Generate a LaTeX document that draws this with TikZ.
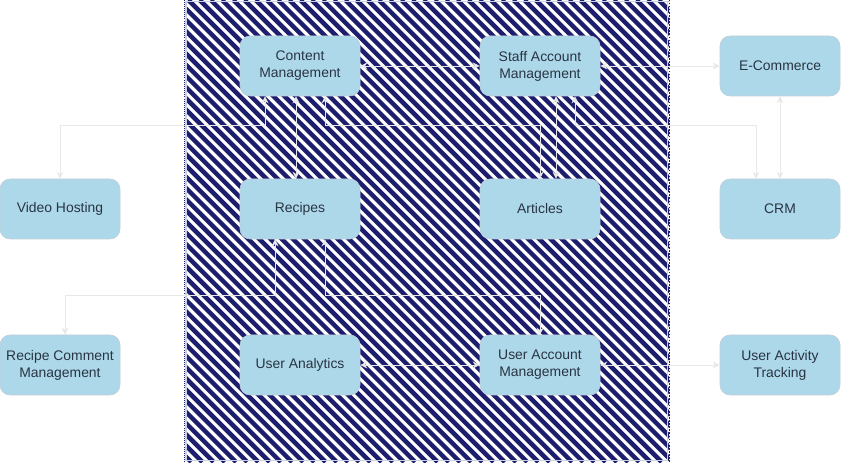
\documentclass[tikz,border=0pt]{standalone}
\usepackage{fontspec}
\setmainfont{Liberation Sans}
\usetikzlibrary{arrows.meta}
\definecolor{boxfill}{RGB}{173,216,234}
\definecolor{boxline}{RGB}{190,205,215}
\definecolor{boxtext}{RGB}{40,52,66}
\definecolor{hatchnavy}{RGB}{30,30,110}
\definecolor{linkgray}{RGB}{232,232,232}
\definecolor{frameline}{RGB}{200,210,225}

\begin{document}
\begin{tikzpicture}[>={Stealth[length=5pt,width=5pt]},
    box/.style={draw=boxline, fill=boxfill, rounded corners=0.25cm, minimum width=3cm, minimum height=1.5cm,
        align=center, text=boxtext, inner sep=1pt, font=\fontsize{9.9}{12.2}\selectfont},
    link/.style={draw=linkgray, line width=0.6pt, <->}]
    \useasboundingbox (0,0) rectangle (21.025,11.55);

    % schraffierter Bereich
    \begin{scope}
        \clip (4.625,0) rectangle (16.725,11.55);
        \foreach \c in {4.5,4.78,...,28.6}
            \draw[hatchnavy, line width=3.2pt] (\c,0) -- ++(-11.55,11.55);
    \end{scope}
    \draw[frameline, line width=0.8pt] (4.65,0.03) rectangle (16.68,11.52);
    \draw[hatchnavy, densely dotted, line width=1.2pt] (16.74,0) -- (16.74,11.55);
    \draw[hatchnavy, densely dotted, line width=0.5pt] (4.62,0) -- (4.62,11.55);

    % obere Reihe
    \node[box] (content) at (7.5,9.9) {Content\\Management};
    \node[box] (staff) at (13.5,9.9) {Staff Account\\Management};
    \node[box] (ecom) at (19.5,9.9) {E-Commerce};

    % mittlere Reihe
    \node[box] (video) at (1.5,6.325) {Video Hosting};
    \node[box] (recipes) at (7.5,6.325) {Recipes};
    \node[box] (articles) at (13.5,6.325) {Articles};
    \node[box] (crm) at (19.5,6.325) {CRM};

    % untere Reihe
    \node[box] (comments) at (1.5,2.425) {Recipe Comment\\Management};
    \node[box] (analytics) at (7.5,2.425) {User Analytics};
    \node[box] (useracc) at (13.5,2.425) {User Account\\Management};
    \node[box] (activity) at (19.5,2.425) {User Activity\\Tracking};

    % Hilfspunkte
    \coordinate (upper) at (0,8.425);
    \coordinate (lower) at (0,4.175);
    \coordinate (crm-in) at ([xshift=-0.6cm]crm.north);
    \coordinate (comments-in) at ([xshift=0.125cm]comments.north);

    % Verbindungen oben
    \draw[link] (content) -- (staff);
    \draw[link] (staff) -- (ecom);
    \draw[link] (ecom) -- (crm);
    \draw[link] ([xshift=-0.875cm]content.south) |- (upper -| video.north) -- (video.north);
    \draw[link] ([xshift=-0.1cm]content.south) -- ([xshift=-0.1cm]recipes.north);
    \draw[link] ([xshift=0.625cm]content.south) |- (upper -| articles.north) -- (articles.north);
    \draw[link] ([xshift=0.4cm]staff.south) -- ([xshift=0.4cm]articles.north);
    \draw[link] ([xshift=0.875cm]staff.south) |- (upper -| crm-in) -- (crm-in);

    % Verbindungen unten
    \draw[link] ([xshift=-0.625cm]recipes.south) |- (lower -| comments-in) -- (comments-in);
    \draw[link] ([xshift=0.625cm]recipes.south) |- (lower -| useracc.north) -- (useracc.north);
    \draw[link] (analytics) -- (useracc);
    \draw[link] (useracc) -- (activity);
\end{tikzpicture}
\end{document}
